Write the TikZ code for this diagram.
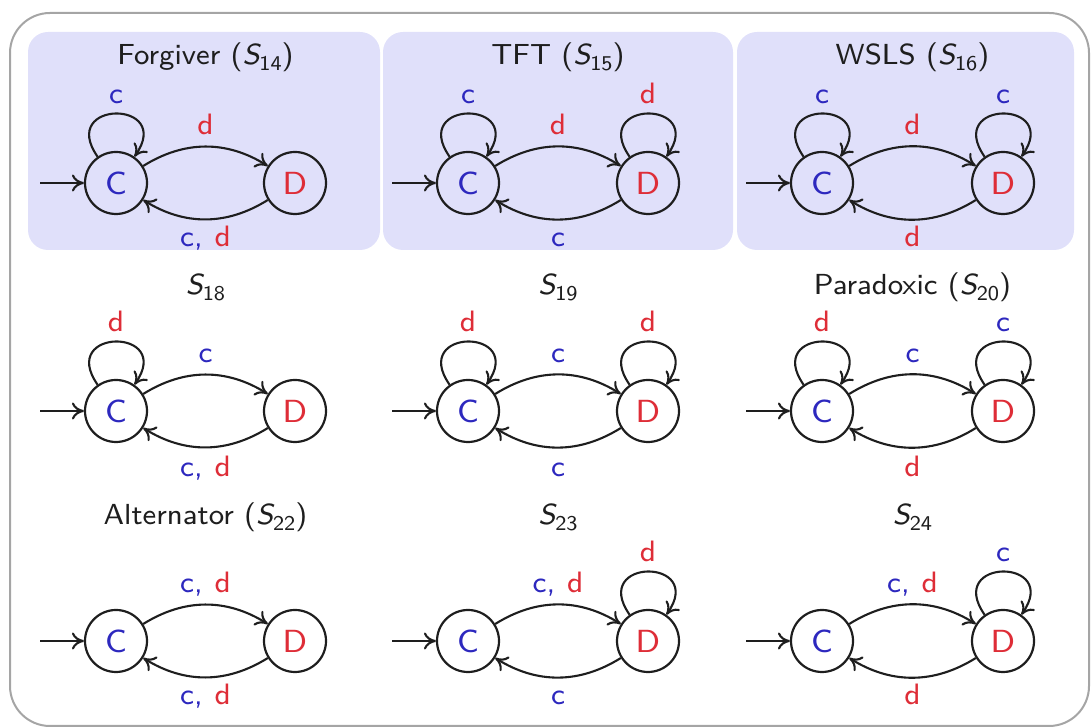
\documentclass[tikz,border=0pt]{standalone}
\usepackage{fontspec}
\usetikzlibrary{arrows.meta}

% small optical size of Latin Modern Sans: wider, sturdier letters
\newfontfamily\sfeight{lmsans8-regular.otf}[ItalicFont=lmsans8-oblique.otf]

\definecolor{cblue}{RGB}{45,40,190}
\definecolor{cred}{RGB}{222,45,55}
\definecolor{panel}{RGB}{224,224,250}
\definecolor{framegray}{RGB}{165,165,165}
\definecolor{ink}{RGB}{30,30,30}

% strategy name S_k in sans italic with upright subscript
\newcommand{\Sname}[1]{\textit{S}\kern-1.5pt\raisebox{-6pt}{\fontsize{21}{24}\selectfont #1}}
% coloured transition labels
\newcommand{\lc}{\textcolor{cblue}{c}}
\newcommand{\ld}{\textcolor{cred}{d}}
\newcommand{\lcd}{\textcolor{cblue}{c,}\hspace{0.4em}\textcolor{cred}{d}}

\tikzset{
  st/.style={circle, draw=ink, line width=2.2pt, minimum size=62pt, inner sep=0pt,
             font=\sfeight\fontsize{32}{38}\selectfont},
  stc/.style={st, text=cblue},
  std/.style={st, text=cred},
  edge/.style={draw=ink, line width=2.1pt, -{To[length=12pt,width=17pt]}},
  lbl/.style={font=\sfeight\fontsize{29.5}{33}\selectfont, anchor=base, inner sep=0pt},
  ttl/.style={font=\sfeight\fontsize{29}{34}\selectfont, anchor=base, text=ink, inner sep=0pt},
  panelbox/.style={fill=panel, rounded corners=20pt},
  selfloop/.style={out=125, in=55, distance=70pt},
  arc/.style={bend left=32},
}

\begin{document}
\begin{tikzpicture}[x=1pt, y=1pt]
\useasboundingbox (0,0) rectangle (1091,727);

% outer frame and shaded panels of the first row
\draw[framegray, line width=2pt, rounded corners=40pt] (10,714) rectangle (1089,1);
\fill[panelbox] (28,695) rectangle (380,477);
\fill[panelbox] (383,695) rectangle (733,477);
\fill[panelbox] (737,695) rectangle (1074,477);

% ---------- row 1 ----------
\node[ttl] (t1) at (205.5,662) {Forgiver (\Sname{14})};
\node[stc] (C1) at (116,544) {C};
\node[std] (D1) at (295,544) {D};
\coordinate (s1) at (40,544);
\draw[edge] (s1) -- (C1);
\draw[edge] (C1) to[selfloop] node[lbl, yshift=10pt] {\lc} (C1);
\draw[edge] (C1) to[arc] node[lbl, yshift=12pt] {\ld} (D1);
\draw[edge] (D1) to[arc] node[lbl, yshift=-27pt] {\lcd} (C1);

\node[ttl] (t2) at (558,662) {TFT (\Sname{15})};
\node[stc] (C2) at (468,544) {C};
\node[std] (D2) at (648,544) {D};
\coordinate (s2) at (392,544);
\draw[edge] (s2) -- (C2);
\draw[edge] (C2) to[selfloop] node[lbl, yshift=10pt] {\lc} (C2);
\draw[edge] (D2) to[selfloop] node[lbl, yshift=10pt] {\ld} (D2);
\draw[edge] (C2) to[arc] node[lbl, yshift=12pt] {\ld} (D2);
\draw[edge] (D2) to[arc] node[lbl, yshift=-27pt] {\lc} (C2);

\node[ttl] (t3) at (912.5,662) {WSLS (\Sname{16})};
\node[stc] (C3) at (822,544) {C};
\node[std] (D3) at (1003,544) {D};
\coordinate (s3) at (746,544);
\draw[edge] (s3) -- (C3);
\draw[edge] (C3) to[selfloop] node[lbl, yshift=10pt] {\lc} (C3);
\draw[edge] (D3) to[selfloop] node[lbl, yshift=10pt] {\lc} (D3);
\draw[edge] (C3) to[arc] node[lbl, yshift=12pt] {\ld} (D3);
\draw[edge] (D3) to[arc] node[lbl, yshift=-27pt] {\ld} (C3);

% ---------- row 2 ----------
\node[ttl] (t4) at (205.5,432) {\Sname{18}};
\node[stc] (C4) at (116,316) {C};
\node[std] (D4) at (295,316) {D};
\coordinate (s4) at (40,316);
\draw[edge] (s4) -- (C4);
\draw[edge] (C4) to[selfloop] node[lbl, yshift=10pt] {\ld} (C4);
\draw[edge] (C4) to[arc] node[lbl, yshift=12pt] {\lc} (D4);
\draw[edge] (D4) to[arc] node[lbl, yshift=-29pt] {\lcd} (C4);

\node[ttl] (t5) at (558,432) {\Sname{19}};
\node[stc] (C5) at (468,316) {C};
\node[std] (D5) at (648,316) {D};
\coordinate (s5) at (392,316);
\draw[edge] (s5) -- (C5);
\draw[edge] (C5) to[selfloop] node[lbl, yshift=10pt] {\ld} (C5);
\draw[edge] (D5) to[selfloop] node[lbl, yshift=10pt] {\ld} (D5);
\draw[edge] (C5) to[arc] node[lbl, yshift=12pt] {\lc} (D5);
\draw[edge] (D5) to[arc] node[lbl, yshift=-29pt] {\lc} (C5);

\node[ttl] (t6) at (912.5,432) {Paradoxic (\Sname{20})};
\node[stc] (C6) at (822,316) {C};
\node[std] (D6) at (1003,316) {D};
\coordinate (s6) at (746,316);
\draw[edge] (s6) -- (C6);
\draw[edge] (C6) to[selfloop] node[lbl, yshift=10pt] {\ld} (C6);
\draw[edge] (D6) to[selfloop] node[lbl, yshift=10pt] {\lc} (D6);
\draw[edge] (C6) to[arc] node[lbl, yshift=12pt] {\lc} (D6);
\draw[edge] (D6) to[arc] node[lbl, yshift=-29pt] {\ld} (C6);

% ---------- row 3 ----------
\node[ttl] (t7) at (205.5,202) {Alternator (\Sname{22})};
\node[stc] (C7) at (116,86) {C};
\node[std] (D7) at (295,86) {D};
\coordinate (s7) at (40,86);
\draw[edge] (s7) -- (C7);
\draw[edge] (C7) to[arc] node[lbl, yshift=12pt] {\lcd} (D7);
\draw[edge] (D7) to[arc] node[lbl, yshift=-27pt] {\lcd} (C7);

\node[ttl] (t8) at (558,202) {\Sname{23}};
\node[stc] (C8) at (468,86) {C};
\node[std] (D8) at (648,86) {D};
\coordinate (s8) at (392,86);
\draw[edge] (s8) -- (C8);
\draw[edge] (D8) to[selfloop] node[lbl, yshift=10pt] {\ld} (D8);
\draw[edge] (C8) to[arc] node[lbl, yshift=12pt] {\lcd} (D8);
\draw[edge] (D8) to[arc] node[lbl, yshift=-27pt] {\lc} (C8);

\node[ttl] (t9) at (912.5,202) {\Sname{24}};
\node[stc] (C9) at (822,86) {C};
\node[std] (D9) at (1003,86) {D};
\coordinate (s9) at (746,86);
\draw[edge] (s9) -- (C9);
\draw[edge] (D9) to[selfloop] node[lbl, yshift=10pt] {\lc} (D9);
\draw[edge] (C9) to[arc] node[lbl, yshift=12pt] {\lcd} (D9);
\draw[edge] (D9) to[arc] node[lbl, yshift=-27pt] {\ld} (C9);
\end{tikzpicture}
\end{document}
